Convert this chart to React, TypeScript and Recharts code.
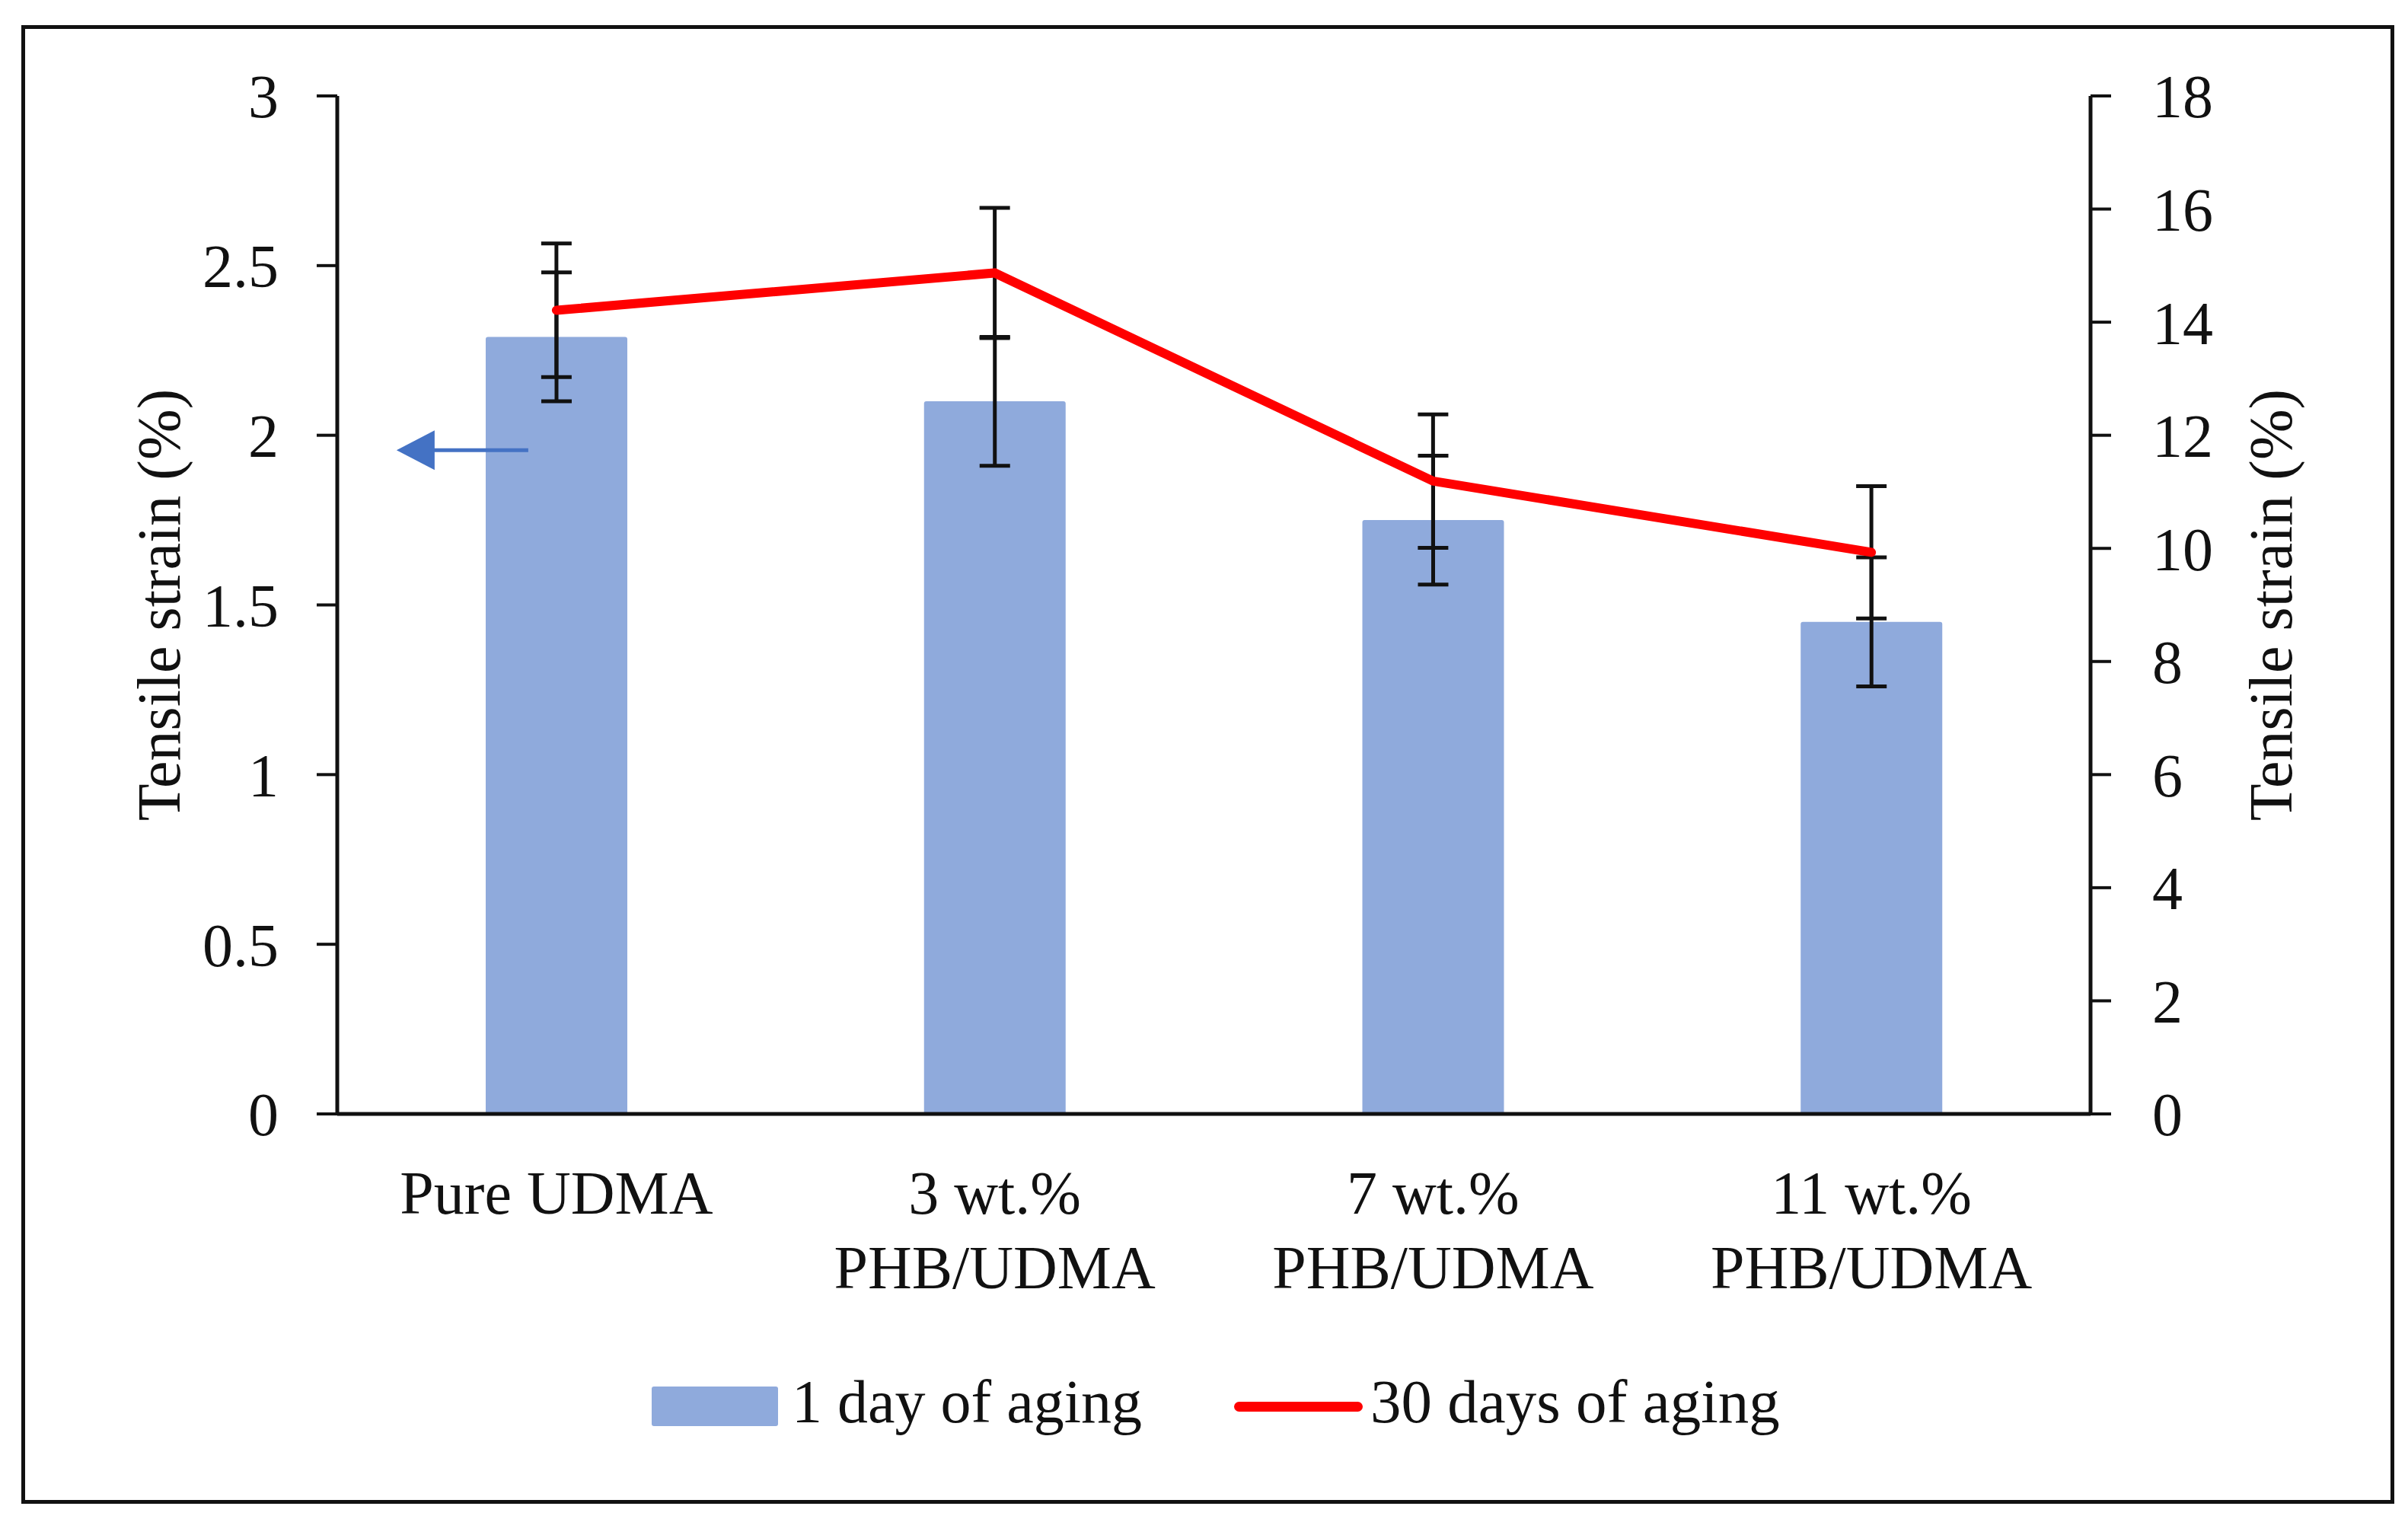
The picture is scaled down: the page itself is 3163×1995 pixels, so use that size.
import React from 'react';
import {
  ComposedChart,
  Bar,
  Line,
  XAxis,
  YAxis,
  ErrorBar,
  Legend,
  ReferenceDot,
} from 'recharts';

const categories = ['Pure UDMA', '3 wt.%\nPHB/UDMA', '7 wt.%\nPHB/UDMA', '11 wt.%\nPHB/UDMA'];
const oneDayValues = [2.29, 2.1, 1.75, 1.45];
const oneDayErrors = [0.19, 0.19, 0.19, 0.19];
const thirtyDayValues = [14.21, 14.87, 11.19, 9.93];
const thirtyDayErrors = [1.18, 1.15, 1.18, 1.17];
const leftTicks = [0, 0.5, 1, 1.5, 2, 2.5, 3];
const rightTicks = [0, 2, 4, 6, 8, 10, 12, 14, 16, 18];
const arrowValue = 1.956;

const data = categories.map((c, i) => ({
  cat: c,
  oneDay: oneDayValues[i],
  oneDayErr: oneDayErrors[i],
  thirtyDay: thirtyDayValues[i],
  thirtyDayErr: thirtyDayErrors[i],
}));

const FONT = "'Liberation Serif', 'Times New Roman', serif";
const INK = '#111111';
const BAR = '#8FAADC';
const RED = '#FF0000';
const ARROW = '#4472C4';

const CategoryTick = (props: any) => {
  const { x, y, payload } = props;
  const lines = String(payload.value).split('\n');
  return (
    <g>
      {lines.map((l: string, i: number) => (
        <text
          key={i}
          x={x}
          y={y + 131 + i * 98}
          textAnchor="middle"
          fontSize={80}
          fill={INK}
          fontFamily={FONT}
        >
          {l}
        </text>
      ))}
    </g>
  );
};

const ArrowShape = (props: any) => {
  const { cx, cy } = props;
  return (
    <g>
      <line x1={cx - 37} y1={cy} x2={cx - 165} y2={cy} stroke={ARROW} strokeWidth={5} />
      <polygon
        points={`${cx - 210},${cy} ${cx - 160},${cy - 26} ${cx - 160},${cy + 26}`}
        fill={ARROW}
      />
    </g>
  );
};

const LegendContent = () => (
  <div
    style={{
      display: 'flex',
      flexDirection: 'row',
      alignItems: 'flex-start',
      fontFamily: FONT,
      fontSize: 80,
      lineHeight: '80px',
      color: INK,
      whiteSpace: 'nowrap',
    }}
  >
    <div style={{ width: 166, height: 52, marginTop: 20, background: BAR, borderRadius: 3 }} />
    <div style={{ width: 599, paddingLeft: 18, boxSizing: 'border-box' }}>1 day of aging</div>
    <div style={{ width: 169, height: 13, marginTop: 40, background: RED, borderRadius: 7 }} />
    <div style={{ paddingLeft: 10, fontSize: 81 }}>30 days of aging</div>
  </div>
);

export default function App() {
  return (
    <div
      style={{
        position: 'absolute',
        left: 0,
        top: 0,
        width: 3163,
        height: 1995,
        background: '#ffffff',
        fontFamily: FONT,
      }}
    >
      <div
        style={{
          position: 'absolute',
          left: 28,
          top: 33,
          width: 3117,
          height: 1942,
          border: `5px solid ${INK}`,
          boxSizing: 'border-box',
        }}
      />
      <div style={{ position: 'absolute', left: 0, top: 0 }}>
        <ComposedChart
          width={3163}
          height={1995}
          data={data}
          margin={{ top: 126, right: 0, bottom: 0, left: 0 }}
        >
          <XAxis
            dataKey="cat"
            interval={0}
            height={532}
            tickLine={false}
            tickSize={0}
            tickMargin={0}
            axisLine={{ stroke: INK, strokeWidth: 5 }}
            tick={<CategoryTick />}
          />
          <YAxis
            yAxisId="left"
            orientation="left"
            width={443}
            domain={[0, 3]}
            ticks={leftTicks}
            interval={0}
            tickSize={27}
            tickMargin={50}
            axisLine={{ stroke: INK, strokeWidth: 5 }}
            tickLine={{ stroke: INK, strokeWidth: 4 }}
            tick={{ fill: INK, fontSize: 80, fontFamily: FONT }}
            label={{
              value: 'Tensile strain (%)',
              angle: -90,
              position: 'center',
              dx: -14,
              fontSize: 80,
              fill: INK,
              fontFamily: FONT,
            }}
          />
          <YAxis
            yAxisId="right"
            orientation="right"
            width={417}
            domain={[0, 18]}
            ticks={rightTicks}
            interval={0}
            tickSize={27}
            tickMargin={54}
            axisLine={{ stroke: INK, strokeWidth: 5 }}
            tickLine={{ stroke: INK, strokeWidth: 4 }}
            tick={{ fill: INK, fontSize: 80, fontFamily: FONT }}
            label={{
              value: 'Tensile strain (%)',
              angle: -90,
              position: 'center',
              dx: 27,
              fontSize: 80,
              fill: INK,
              fontFamily: FONT,
            }}
          />
          <Bar
            yAxisId="left"
            dataKey="oneDay"
            name="1 day of aging"
            fill={BAR}
            barSize={186}
            radius={[3, 3, 0, 0]}
            isAnimationActive={false}
          >
            <ErrorBar dataKey="oneDayErr" direction="y" width={20} stroke={INK} strokeWidth={5} />
          </Bar>
          <Line
            yAxisId="right"
            dataKey="thirtyDay"
            name="30 days of aging"
            stroke={RED}
            strokeWidth={12}
            strokeLinecap="round"
            dot={false}
            activeDot={false}
            isAnimationActive={false}
          >
            <ErrorBar dataKey="thirtyDayErr" direction="y" width={20} stroke={INK} strokeWidth={5} />
          </Line>
          <ReferenceDot
            yAxisId="left"
            x={categories[0]}
            y={arrowValue}
            shape={<ArrowShape />}
            ifOverflow="visible"
          />
          <Legend
            layout="horizontal"
            verticalAlign="middle"
            align="center"
            content={<LegendContent />}
            wrapperStyle={{ top: 1801, left: 856, width: 1700, height: 80, bottom: 'auto', right: 'auto' }}
          />
        </ComposedChart>
      </div>
    </div>
  );
}
